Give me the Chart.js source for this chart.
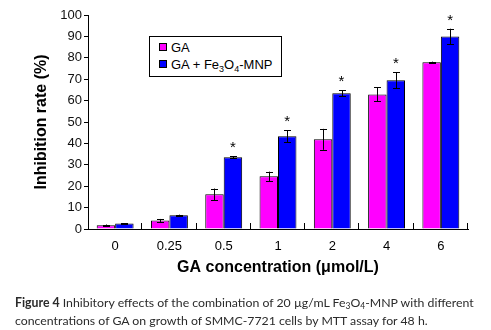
<!DOCTYPE html>
<html><head><meta charset="utf-8">
<script src="https://cdn.jsdelivr.net/npm/chart.js@4"></script>
<style>
html,body{margin:0;padding:0;background:#fff;}
#wrap{position:relative;width:491px;height:330px;overflow:hidden;}
#c{position:absolute;left:0;top:0;}
#legend{position:absolute;left:149px;top:36px;width:131px;height:39px;border:1px solid #000;background:#fff;font:13px "Liberation Sans",Arial,sans-serif;color:#000;}
#legend .it{position:absolute;left:9px;height:16px;line-height:16px;white-space:nowrap;}
#legend .sw{display:inline-block;width:6px;height:6px;border:1px solid #000;margin-right:4px;vertical-align:1px;}
#legend sub{font-size:9px;vertical-align:-3px;line-height:0;}
#cap{position:absolute;left:15px;top:294px;width:480px;font:12.3px Lato,"Open Sans",sans-serif;color:#2b2b2b;line-height:18px;white-space:nowrap;}
#cap sub{font-size:8.5px;vertical-align:-2px;line-height:0;}
</style></head>
<body><div id="wrap"><canvas id="c" width="491" height="330"></canvas>
<div id="legend"></div>
<div id="cap"><b>Figure 4</b> Inhibitory effects of the combination of 20 µg/mL Fe<sub>3</sub>O<sub>4</sub>-MNP with different<br>concentrations of GA on growth of SMMC-7721 cells by MTT assay for 48 h.</div>
</div>
<script>
const categories = ["0","0.25","0.5","1","2","4","6"];
const gaValues = [1.8, 4.0, 16.2, 24.6, 41.9, 62.9, 77.9];
const gaErrors = [0.3, 0.7, 2.7, 2.2, 4.9, 3.3, 0.3];
const comboValues = [2.6, 6.4, 33.5, 43.3, 63.4, 69.5, 90.0];
const comboErrors = [0.1, 0.3, 0.5, 2.8, 1.4, 3.7, 3.6];
const significant = [false, false, true, true, true, true, true];
const seriesLabels = ["GA", "GA + Fe3O4-MNP"];
const seriesColors = ["#ff00ff", "#0000ff"];
const yTicks = [0,10,20,30,40,50,60,70,80,90,100];

const errorPlugin = {
  id: 'errs',
  afterDatasetsDraw(chart) {
    const ctx = chart.ctx, y = chart.scales.y;
    chart.data.datasets.forEach((ds, di) => {
      const meta = chart.getDatasetMeta(di);
      meta.data.forEach((bar, i) => {
        const v = ds.data[i], e = ds.errors[i];
        const yt = y.getPixelForValue(v + e), yb = y.getPixelForValue(v - e);
        ctx.save();
        ctx.strokeStyle = '#000'; ctx.lineWidth = 1;
        ctx.beginPath();
        const x = Math.round(bar.x) + 0.5;
        ctx.moveTo(x, yt); ctx.lineTo(x, yb);
        ctx.moveTo(x - 3.5, Math.round(yt) + 0.5); ctx.lineTo(x + 3.5, Math.round(yt) + 0.5);
        ctx.moveTo(x - 3.5, Math.round(yb) + 0.5); ctx.lineTo(x + 3.5, Math.round(yb) + 0.5);
        ctx.stroke();
        if (di === 1 && significant[i]) {
          ctx.fillStyle = '#000';
          ctx.font = '15px "Liberation Sans", Arial, sans-serif';
          ctx.textAlign = 'center'; ctx.textBaseline = 'middle';
          ctx.fillText('*', bar.x, yt - 8);
        }
        ctx.restore();
      });
    });
    const area = chart.chartArea;
    const n = categories.length, w = (area.right - area.left) / n;
    ctx.save(); ctx.strokeStyle = '#000'; ctx.lineWidth = 1; ctx.beginPath();
    for (let k = 1; k <= n; k++) {
      const px = Math.round(area.left + k * w) - 0.5;
      ctx.moveTo(px, area.bottom); ctx.lineTo(px, area.bottom - 6);
    }
    ctx.stroke(); ctx.restore();
  }
};

const chart = new Chart(document.getElementById('c'), {
  type: 'bar',
  data: {
    labels: categories,
    datasets: [
      {label: seriesLabels[0], data: gaValues, errors: gaErrors, backgroundColor: seriesColors[0], borderColor: '#000', borderWidth: 1},
      {label: seriesLabels[1], data: comboValues, errors: comboErrors, backgroundColor: seriesColors[1], borderColor: '#000', borderWidth: 1}
    ]
  },
  options: {
    responsive: false,
    animation: false,
    layout: {padding: {left: 32, right: 23, top: 15, bottom: 53}},
    categoryPercentage: 0.68,
    barPercentage: 1.0,
    plugins: {legend: {display: false}, tooltip: {enabled: false}},
    scales: {
      x: {
        grid: {display: false, drawTicks: false},
        border: {color: '#000', width: 1},
        ticks: {padding: 10, color: '#000', font: {family: '"Liberation Sans", Arial, sans-serif', size: 13}},
        title: {display: true, text: 'GA concentration (μmol/L)', color: '#000', padding: 0,
                font: {family: '"Liberation Sans", Arial, sans-serif', size: 16, weight: 'bold'}},
        afterFit(s) { s.height = 48; }
      },
      y: {
        min: 0, max: 100,
        afterBuildTicks(s) { s.ticks = yTicks.map(v => ({value: v})); },
        grid: {drawOnChartArea: false, drawTicks: true, tickLength: 4, color: '#000'},
        border: {color: '#000', width: 1},
        ticks: {padding: 2, color: '#111', font: {family: '"Liberation Sans", Arial, sans-serif', size: 13}},
        title: {display: true, text: 'Inhibition rate (%)', color: '#000', padding: 0,
                font: {family: '"Liberation Sans", Arial, sans-serif', size: 16, weight: 'bold'}},
        afterFit(s) { s.width = 56; }
      }
    }
  },
  plugins: [errorPlugin]
});

const lg = document.getElementById('legend');
chart.data.datasets.forEach((ds, i) => {
  const d = document.createElement('div');
  d.className = 'it'; d.style.top = (3 + i * 17) + 'px';
  const sw = document.createElement('span'); sw.className = 'sw'; sw.style.background = ds.backgroundColor;
  d.appendChild(sw);
  const t = document.createElement('span');
  t.innerHTML = ds.label.replace(/Fe3O4/, 'Fe<sub>3</sub>O<sub>4</sub>');
  d.appendChild(t);
  lg.appendChild(d);
});
</script>
</body></html>
